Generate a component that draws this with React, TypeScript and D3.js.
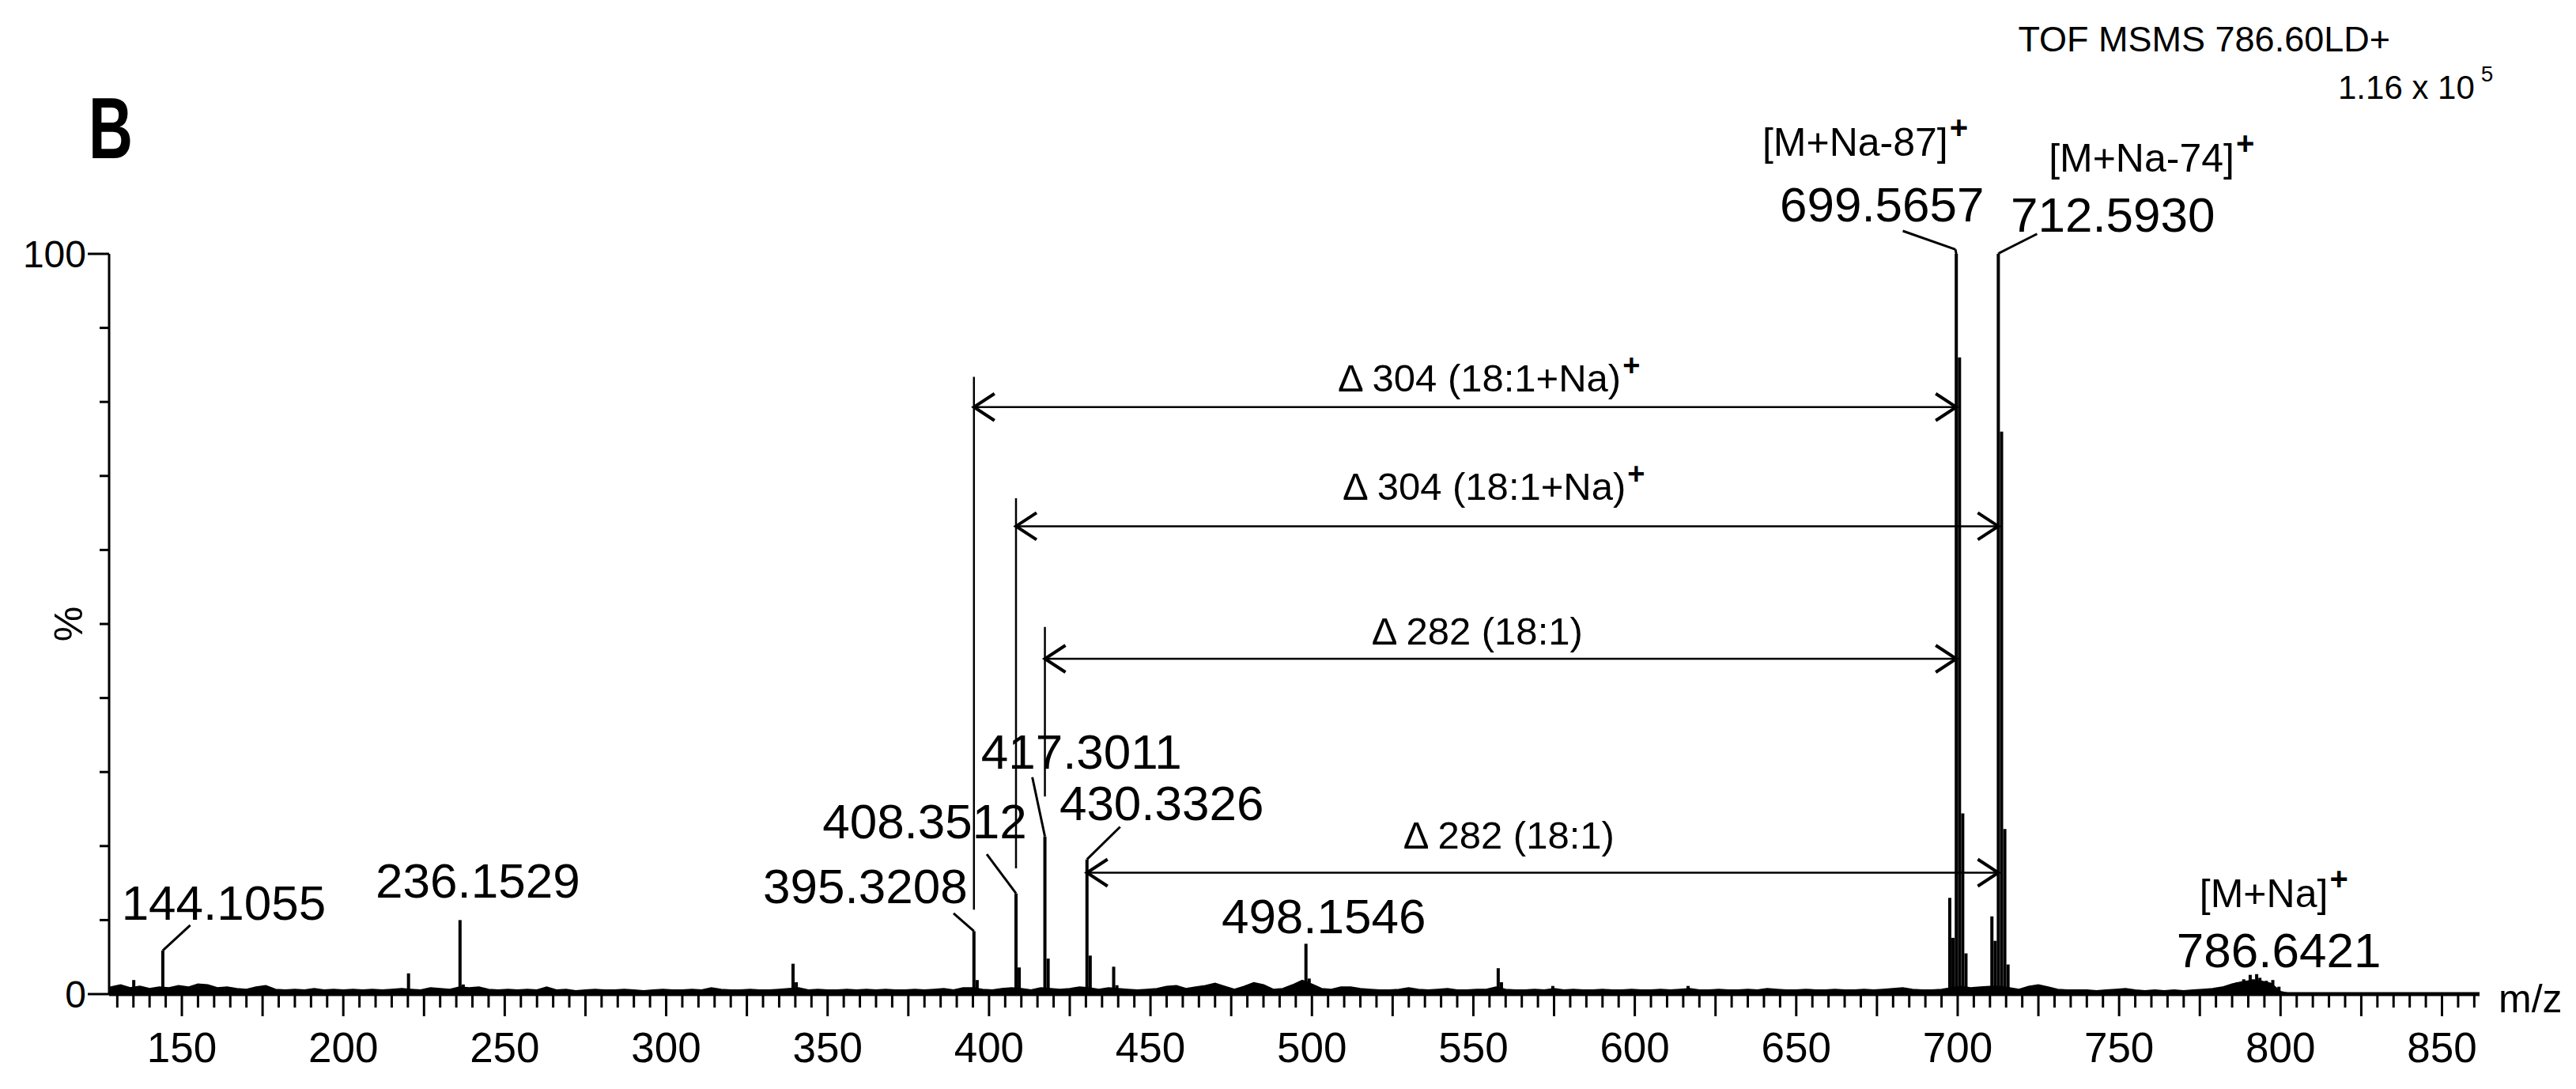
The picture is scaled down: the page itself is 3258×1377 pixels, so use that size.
import React from "react";
import * as d3 from "d3";

const W = 3258;
const H = 1377;
const FONT = "'Liberation Sans', Arial, Helvetica, sans-serif";

// x axis labels
const xTickLabels = [150, 200, 250, 300, 350, 400, 450, 500, 550, 600, 650, 700, 750, 800, 850];
const yTickValues = [0, 10, 20, 30, 40, 50, 60, 70, 80, 90, 100];
const yTickLabels = ["0", "100"];

// centroid / main peaks (m/z, relative intensity %)
const peakMz = [
  135.1, 144.1, 220.2, 236.15, 237.15, 339.3, 340.3,
  395.32, 396.32, 408.35, 409.35, 417.3, 418.3, 430.33, 431.33, 438.6, 439.6,
  498.15, 499.15, 557.7, 558.7, 574.6, 616.5,
  697.55, 698.55, 699.57, 700.57, 701.57, 702.57,
  710.6, 711.6, 712.59, 713.6, 714.6, 715.6,
  784.5, 786.6, 788.6, 790.6, 791.6, 792.6, 793.6, 795.6, 797.6, 799.5,
];
const peakInt = [
  1.9, 5.9, 2.8, 10.0, 1.3, 4.1, 1.6,
  8.5, 1.9, 13.6, 3.6, 21.3, 4.8, 18.2, 5.2, 3.7, 1.2,
  6.8, 2.1, 3.5, 1.6, 1.1, 1.1,
  13.0, 7.6, 100, 86, 24.4, 5.5,
  10.5, 7.2, 100, 76, 22.3, 4.0,
  1.2, 1.6, 2.0, 2.6, 2.0, 2.7, 2.2, 1.8, 1.9, 1.0,
];

// baseline noise, every 3 m/z starting at 128
const noiseStart = 128;
const noiseStep = 3;
const noiseLevels = [
  0.9, 1.2, 0.8, 1.0, 0.7, 0.9, 0.8, 1.1, 0.9, 1.3, 1.2, 0.8, 0.9, 0.7, 0.6, 0.9, 1.1, 0.6, 0.5, 0.6,
  0.5, 0.7, 0.5, 0.6, 0.5, 0.6, 0.5, 0.6, 0.5, 0.6, 0.7, 0.6, 0.5, 0.8, 0.7, 0.6, 0.9, 0.8, 0.9, 0.6,
  0.5, 0.6, 0.5, 0.6, 0.5, 0.9, 0.5, 0.6, 0.4, 0.5, 0.6, 0.5, 0.5, 0.6, 0.5, 0.4, 0.5, 0.6, 0.5, 0.5,
  0.6, 0.5, 0.8, 0.6, 0.5, 0.5, 0.6, 0.5, 0.5, 0.6, 0.7, 0.8, 0.5, 0.6, 0.5, 0.5, 0.6, 0.5, 0.6, 0.5,
  0.6, 0.5, 0.5, 0.6, 0.5, 0.6, 0.7, 0.5, 0.8, 0.8, 0.6, 0.5, 0.7, 0.8, 0.7, 0.5, 0.8, 0.7, 0.6, 0.7,
  0.9, 0.8, 0.6, 0.8, 0.7, 0.6, 0.5, 0.6, 0.7, 1.0, 1.1, 0.7, 0.9, 1.1, 1.4, 1.0, 0.6, 1.0, 1.5, 1.2,
  0.6, 0.7, 1.2, 1.8, 1.3, 0.7, 0.6, 0.9, 0.9, 0.7, 0.6, 0.5, 0.5, 0.6, 0.8, 0.6, 0.5, 0.6, 0.7, 0.5,
  0.5, 0.6, 0.6, 0.9, 0.6, 0.5, 0.5, 0.6, 0.5, 0.7, 0.5, 0.6, 0.5, 0.5, 0.6, 0.5, 0.5, 0.6, 0.5, 0.5,
  0.6, 0.5, 0.6, 0.7, 0.5, 0.5, 0.6, 0.5, 0.5, 0.6, 0.5, 0.7, 0.6, 0.5, 0.5, 0.6, 0.5, 0.5, 0.6, 0.5,
  0.5, 0.6, 0.5, 0.6, 0.7, 0.8, 0.6, 0.5, 0.5, 0.6, 0.8, 1.0, 0.8, 0.9, 1.0, 1.0, 0.8, 0.6, 1.0, 1.2,
  0.9, 0.6, 0.5, 0.5, 0.5, 0.4, 0.5, 0.6, 0.7, 0.5, 0.4, 0.5, 0.4, 0.5, 0.4, 0.5, 0.6, 0.7, 0.9, 1.3,
  1.6, 1.8, 1.7, 1.4, 0.3, 0.0,
];

// peak labels
const peakLabelText = [
  "144.1055", "236.1529", "395.3208", "408.3512", "417.3011", "430.3326",
  "498.1546", "699.5657", "712.5930", "786.6421",
];
const peakLabelMz = [131.3, 210.0, 330.0, 348.4, 397.5, 421.8, 472.0, 644.9, 716.4, 767.8];
const peakLabelPct = [10.0, 13.0, 12.3, 21.0, 30.4, 23.5, 8.2, 104.4, 103.0, 3.6];

// leader lines: [mz1, pct1, mz2, pct2]
const leaderLines = [
  [144.1, 5.9, 152.6, 9.3],
  [395.32, 8.5, 389.0, 10.9],
  [408.35, 13.6, 399.3, 18.9],
  [417.3, 21.3, 413.4, 29.3],
  [430.33, 18.2, 440.6, 22.6],
  [699.57, 100, 699.3, 100.6],
  [699.3, 100.6, 683.0, 103.1],
  [712.59, 100, 712.8, 100.1],
  [712.8, 100.1, 724.6, 102.7],
];

// vertical extension lines: [mz, lowPct, highPct]
const extensionLines = [
  [395.32, 11.4, 83.4],
  [408.35, 17.0, 67.0],
  [417.3, 26.7, 49.6],
];

// double arrows for neutral losses
const arrowFromMz = [395.32, 408.35, 417.3, 430.33];
const arrowToMz = [699.57, 712.59, 699.57, 712.59];
const arrowPct = [79.3, 63.2, 45.3, 16.4];
const arrowText = ["Δ 304 (18:1+Na)", "Δ 304 (18:1+Na)", "Δ 282 (18:1)", "Δ 282 (18:1)"];
const arrowSup = ["+", "+", "", ""];
const arrowTextMz = [508.0, 509.5, 518.5, 528.3];
const arrowTextPct = [81.4, 66.8, 47.2, 19.7];

// ion assignments
const ionText = ["[M+Na-87]", "[M+Na-74]", "[M+Na]"];
const ionMz = [639.5, 728.2, 774.9];
const ionPct = [113.2, 111.1, 11.8];

export default function App() {
  const x = d3.scaleLinear().domain([127.47, 861.63]).range([138, 3136]);
  const y = d3.scaleLinear().domain([0, 100]).range([1257, 321]);
  const y0 = y(0);

  const minorTicks = d3.range(130, 861, 5);
  const noisePts: [number, number][] = noiseLevels.map((v, i) => [noiseStart + i * noiseStep, v]);
  const noiseArea = d3
    .area<[number, number]>()
    .x((d) => x(d[0]))
    .y0(y0)
    .y1((d) => y(d[1]))(noisePts) as string;

  const chevron = (tipX: number, yy: number, dir: number) =>
    `M ${tipX + dir * 26} ${yy - 17} L ${tipX} ${yy} L ${tipX + dir * 26} ${yy + 17}`;

  return (
    <svg
      width={W}
      height={H}
      viewBox={`0 0 ${W} ${H}`}
      style={{ position: "absolute", left: 0, top: 0, background: "#fff" }}
      fontFamily={FONT}
    >
      <rect x={0} y={0} width={W} height={H} fill="#fff" />

      {/* panel letter and header */}
      <text x={112} y={200} fontSize={110} fontWeight="bold" textLength={56} lengthAdjust="spacingAndGlyphs">
        B
      </text>
      <text x={3023} y={65} fontSize={45} textAnchor="end">
        TOF MSMS 786.60LD+
      </text>
      <text x={2957} y={125} fontSize={42}>
        1.16 x 10
        <tspan dx={8} dy={-22} fontSize={28}>
          5
        </tspan>
      </text>

      {/* baseline noise */}
      <path d={noiseArea} fill="#000" stroke="#000" strokeWidth={2.5} />
      {noisePts.map((d, i) => (
        <line key={"nz" + i} x1={x(d[0])} x2={x(d[0])} y1={y0} y2={y(d[1])} stroke="#000" strokeWidth={2.5} />
      ))}

      {/* peaks */}
      {peakMz.map((m, i) => (
        <line key={"pk" + i} x1={x(m)} x2={x(m)} y1={y0} y2={y(peakInt[i])} stroke="#000" strokeWidth={4} />
      ))}

      {/* y axis */}
      <line x1={138} x2={138} y1={y(100)} y2={y0} stroke="#000" strokeWidth={3} />
      {yTickValues.map((v) => (
        <line
          key={"yt" + v}
          x1={138}
          x2={v === 0 || v === 100 ? 111 : 126}
          y1={y(v)}
          y2={y(v)}
          stroke="#000"
          strokeWidth={3}
        />
      ))}
      {yTickLabels.map((t) => (
        <text key={"yl" + t} x={109} y={y(+t) + 17} fontSize={48} textAnchor="end">
          {t}
        </text>
      ))}
      <text transform={`translate(104, ${y(50)}) rotate(-90)`} fontSize={50} textAnchor="middle">
        %
      </text>

      {/* x axis */}
      <line x1={138} x2={3136} y1={y0} y2={y0} stroke="#000" strokeWidth={5} />
      {minorTicks.map((m) => (
        <line
          key={"xt" + m}
          x1={x(m)}
          x2={x(m)}
          y1={y0}
          y2={y0 + (m % 25 === 0 ? 28 : 17)}
          stroke="#000"
          strokeWidth={3}
        />
      ))}
      {xTickLabels.map((m) => (
        <text key={"xl" + m} x={x(m)} y={1343} fontSize={53} textAnchor="middle">
          {m}
        </text>
      ))}
      <text x={3160} y={1280} fontSize={50}>
        m/z
      </text>

      {/* extension lines */}
      {extensionLines.map((e, i) => (
        <line key={"ex" + i} x1={x(e[0])} x2={x(e[0])} y1={y(e[1])} y2={y(e[2])} stroke="#000" strokeWidth={2.5} />
      ))}

      {/* arrows */}
      {arrowFromMz.map((m, i) => {
        const yy = y(arrowPct[i]);
        const xa = x(m);
        const xb = x(arrowToMz[i]);
        return (
          <g key={"ar" + i}>
            <line x1={xa} x2={xb} y1={yy} y2={yy} stroke="#000" strokeWidth={2.5} />
            <path d={chevron(xa, yy, 1)} fill="none" stroke="#000" strokeWidth={4} />
            <path d={chevron(xb, yy, -1)} fill="none" stroke="#000" strokeWidth={4} />
            <text x={x(arrowTextMz[i])} y={y(arrowTextPct[i])} fontSize={49}>
              {arrowText[i]}
              {arrowSup[i] ? (
                <tspan dx={2} dy={-20} fontSize={38} fontWeight="bold">
                  {arrowSup[i]}
                </tspan>
              ) : null}
            </text>
          </g>
        );
      })}

      {/* leader lines */}
      {leaderLines.map((l, i) => (
        <line key={"ld" + i} x1={x(l[0])} y1={y(l[1])} x2={x(l[2])} y2={y(l[3])} stroke="#000" strokeWidth={3} />
      ))}

      {/* peak labels */}
      {peakLabelText.map((t, i) => (
        <text key={"pl" + i} x={x(peakLabelMz[i])} y={y(peakLabelPct[i])} fontSize={62}>
          {t}
        </text>
      ))}

      {/* ion labels */}
      {ionText.map((t, i) => (
        <text key={"io" + i} x={x(ionMz[i])} y={y(ionPct[i])} fontSize={50}>
          {t}
          <tspan dx={2} dy={-22} fontSize={40} fontWeight="bold">
            +
          </tspan>
        </text>
      ))}
    </svg>
  );
}
